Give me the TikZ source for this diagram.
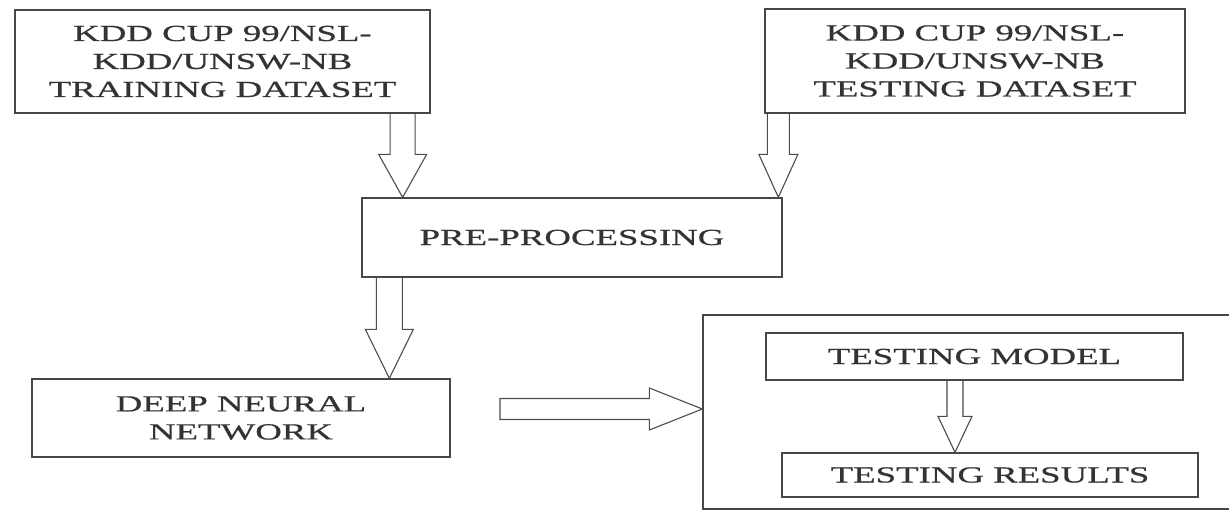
\documentclass[tikz,border=0pt]{standalone}
\usepackage{fontspec}
\setmainfont{Liberation Serif}[FakeStretch=1.6, FakeBold=0.6]
\usetikzlibrary{calc}

% flecha de bloque hacia abajo: #1 inicio, #2 punta, #3 medio ancho del cuerpo,
% #4 medio ancho de la punta, #5 largo de la punta
\newcommand{\flechabaja}[5]{%
  \draw[flecha] let \p1=#1, \p2=#2 in
    (\x1-#3pt,\y1) -- (\x1-#3pt,\y2+#5pt) -- (\x1-#4pt,\y2+#5pt) -- (\x1,\y2)
    -- (\x1+#4pt,\y2+#5pt) -- (\x1+#3pt,\y2+#5pt) -- (\x1+#3pt,\y1);}

\begin{document}
\begin{tikzpicture}[
    x=1pt, y=-1pt,
    % Estilos de cajas y flechas
    caja/.style={draw=black!72, line width=1.3pt, fill=white, align=center,
      inner sep=0pt, text=black!80, font=\fontsize{23}{28}\selectfont},
    flecha/.style={draw=black!70, line width=1.1pt, line join=miter}
  ]
  \useasboundingbox (0,0) rectangle (1229,510);

  % 1. Conjuntos de datos (arriba)
  \node[caja, minimum width=415pt, minimum height=103pt] (train) at (222.5,61.5)
    {KDD CUP 99/NSL-\\KDD/UNSW-NB\\TRAINING DATASET};
  \node[caja, minimum width=420pt, minimum height=104pt] (test) at (975,61)
    {KDD CUP 99/NSL-\\KDD/UNSW-NB\\TESTING DATASET};

  % 2. Preprocesamiento y red
  \node[caja, minimum width=420pt, minimum height=79pt] (pp) at (572,237.5) {PRE-PROCESSING};
  \node[caja, minimum width=418pt, minimum height=78pt] (dnn) at (241,418) {DEEP NEURAL\\NETWORK};

  % 3. Bloque de evaluacion (se corta en el borde)
  \node[caja, minimum width=540pt, minimum height=194pt] (eval) at (973,412) {};
  \node[caja, minimum width=417pt, minimum height=47pt] (model) at (974.5,356.5) {TESTING MODEL};
  \node[caja, minimum width=416pt, minimum height=44pt] (results) at (990,475) {TESTING RESULTS};

  % 4. Flechas
  \flechabaja{($(train.south east)+(-28,0)$)}{(pp.north)}{12.5}{24}{43}
  \flechabaja{($(test.south west)+(14,0)$)}{(pp.north)}{11}{19.5}{43}
  \flechabaja{($(pp.south west)+(28,0)$)}{(dnn.north)}{13}{24}{49}
  \flechabaja{($(model.south)+(-19.5,0)$)}{(results.north)}{8}{17}{36}

  % flecha horizontal hacia el bloque de evaluacion
  \coordinate (hini) at (500,409);
  \draw[flecha] let \p1=(hini), \p2=(hini -| eval.west) in
    (\x1,\y1+10.5pt) -- (\x2-53pt,\y1+10.5pt) -- (\x2-53pt,\y1+21pt) -- (\x2,\y1)
    -- (\x2-53pt,\y1-21pt) -- (\x2-53pt,\y1-10.5pt) -- (\x1,\y1-10.5pt) -- cycle;

\end{tikzpicture}
\end{document}
